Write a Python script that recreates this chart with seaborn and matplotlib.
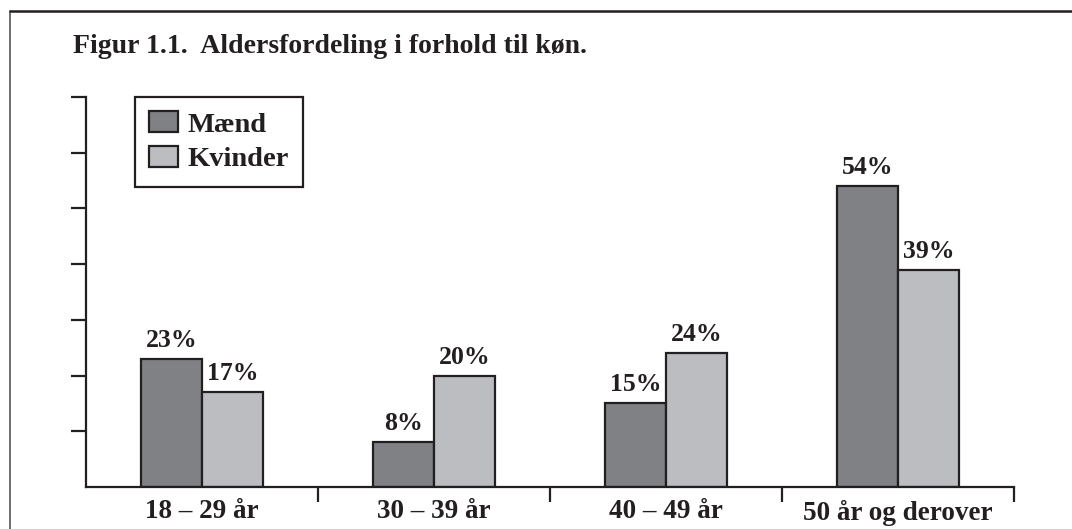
import pandas as pd
import numpy as np
import matplotlib
matplotlib.use("Agg")
import matplotlib.pyplot as plt
from matplotlib.lines import Line2D
import seaborn as sns

sns.set_style("white")
plt.rcParams['font.family'] = ['Liberation Serif', 'DejaVu Serif']
plt.rcParams['font.weight'] = 'bold'

# data
aldersgrupper = ["18 – 29 år", "30 – 39 år", "40 – 49 år", "50 år og derover"]
maend = [23, 8, 15, 54]
kvinder = [17, 20, 24, 39]
koen = ["Mænd", "Kvinder"]

df = pd.DataFrame({
    "alder": aldersgrupper * 2,
    "koen": [koen[0]] * 4 + [koen[1]] * 4,
    "pct": maend + kvinder,
})

ink = "#231f20"
farver = ["#808185", "#bcbdc1"]

fig = plt.figure(figsize=(10.72, 5.29), dpi=100)
ax = fig.add_axes([86 / 1072, 42 / 529, 928 / 1072, 390 / 529])

sns.barplot(data=df, x="alder", y="pct", hue="koen", palette=farver,
            order=aldersgrupper, hue_order=koen, width=0.526,
            edgecolor=ink, linewidth=1.6, saturation=1, ax=ax)

for c in ax.containers:
    ax.bar_label(c, fmt="%d%%", padding=5, fontsize=18.5, color=ink, fontweight='bold')

ax.set_xlim(-0.5, 3.5)
ax.set_ylim(0, 70)
ax.set_xlabel("")
ax.set_ylabel("")

# separators between groups as major ticks, labels on minor ticks
ax.set_xticks([0.5, 1.5, 2.5, 3.5])
ax.set_xticklabels([])
ax.set_xticks(np.arange(len(aldersgrupper)), minor=True)
ax.set_xticklabels(aldersgrupper, minor=True, fontsize=19.5, fontweight='bold', color=ink)
ax.tick_params(axis='x', which='major', direction='out', length=11, width=1.6, color=ink, bottom=True)
ax.tick_params(axis='x', which='minor', length=0, pad=9)

ax.set_yticks(np.arange(10, 71, 10))
ax.set_yticklabels([])
ax.tick_params(axis='y', direction='out', length=11, width=1.6, color=ink, left=True)

sns.despine(ax=ax)
for s in ["left", "bottom"]:
    ax.spines[s].set_linewidth(1.6)
    ax.spines[s].set_color(ink)

leg = ax.legend(loc="upper left", bbox_to_anchor=(0.053, 1.0), fancybox=False,
                framealpha=1, edgecolor=ink, fontsize=20.5, handlelength=1.0,
                handleheight=0.75, handletextpad=0.35, borderpad=0.5,
                labelspacing=0.3, borderaxespad=0)
leg.get_frame().set_linewidth(1.6)
for t in leg.get_texts():
    t.set_color(ink)
    t.set_fontweight('bold')

fig.text(73 / 1072, 1 - 53 / 529, "Figur 1.1.  Aldersfordeling i forhold til køn.",
         fontsize=20, fontweight='bold', color=ink, va='baseline', ha='left')

# frame of the figure box (only top and left visible in the crop)
fig.add_artist(Line2D([10 / 1072, 10 / 1072], [0, 1 - 11 / 529], color="#555555", lw=1.2))
fig.add_artist(Line2D([10 / 1072, 1], [1 - 11 / 529, 1 - 11 / 529], color=ink, lw=1.8))

fig.savefig("out.png", dpi=100)
